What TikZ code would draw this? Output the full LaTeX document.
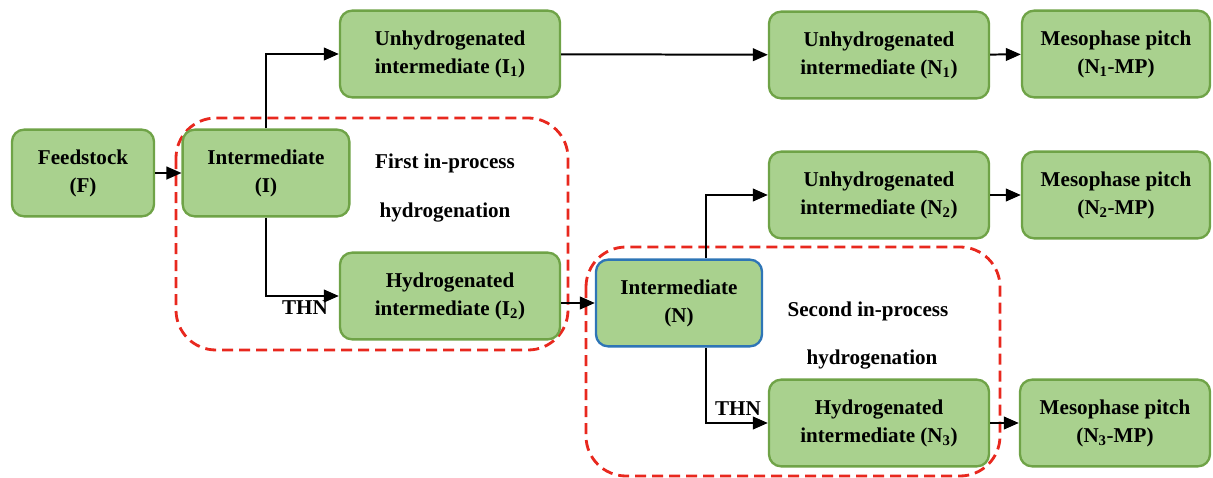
\documentclass[tikz,border=0pt]{standalone}
\usepackage{fontspec}
\setmainfont{Liberation Serif}
\usepackage{xcolor}
\usetikzlibrary{arrows.meta, positioning, calc}

\definecolor{boxgreen}{HTML}{A9D18E}
\definecolor{edgegreen}{HTML}{6FA347}
\definecolor{edgeblue}{HTML}{2E75B6}
\definecolor{dashred}{HTML}{E8281E}

\tikzset{
  stage/.style={draw=edgegreen, fill=boxgreen, line width=2pt, rounded corners=0.36cm,
    minimum width=6.6cm, minimum height=2.6cm, align=center,
    font=\fontsize{18}{24}\selectfont\bfseries},
  flow/.style={-{Triangle[length=0.45cm,width=0.38cm]}, line width=1.7pt},
  zone/.style={draw=dashred, dash pattern=on 0.33cm off 0.18cm, line width=2.4pt, rounded corners=1.2cm},
  note/.style={font=\fontsize{18}{20}\selectfont\bfseries},
}

\begin{document}
\begin{tikzpicture}[x=0.03cm, y=-0.03cm]
  \useasboundingbox (0,0) rectangle (1213,477);

  % dashed zones
  \draw[zone] (176,118) rectangle (568,350);
  \draw[zone] (586,247) rectangle (1000,476);

  % stages
  \node[stage, minimum width=4.26cm] (F) at (83,173) {Feedstock\\(F)};
  \node[stage, minimum width=5cm] (I) at (266,173) {Intermediate\\(I)};
  \node[stage] (I1) at (450,54) {Unhydrogenated\\intermediate (I\textsubscript{1})};
  \node[stage] (I2) at (450,296) {Hydrogenated\\intermediate (I\textsubscript{2})};
  \node[stage, draw=edgeblue, minimum width=4.98cm] (N) at (679,303) {Intermediate\\(N)};
  \node[stage] (N1) at (879,55) {Unhydrogenated\\intermediate (N\textsubscript{1})};
  \node[stage] (N2) at (879,195) {Unhydrogenated\\intermediate (N\textsubscript{2})};
  \node[stage] (N3) at (879,423) {Hydrogenated\\intermediate (N\textsubscript{3})};
  \node[stage, minimum width=5.64cm] (MP1) at (1116,54) {Mesophase pitch\\(N\textsubscript{1}-MP)};
  \node[stage, minimum width=5.64cm] (MP2) at (1116,195) {Mesophase pitch\\(N\textsubscript{2}-MP)};
  \node[stage, minimum width=5.7cm] (MP3) at (1115,423) {Mesophase pitch\\(N\textsubscript{3}-MP)};

  % notes
  \node[note] (t1a) at (445,163) {First in-process};
  \node[note] (t1b) at (445,213) {hydrogenation};
  \node[note] (t2a) at (868,311) {Second in-process};
  \node[note] (t2b) at (872,360) {hydrogenation};
  \node[note] (thn1) at (305,308) {THN};
  \node[note] (thn2) at (738,409) {THN};

  % arrows
  \draw[flow] (F) -- (I);
  \draw[flow] (I.north) |- (I1.west);
  \draw[flow] (I.south) |- (I2.west);
  \draw[flow] (I1) -- (N1);
  \draw[flow] (N1) -- (MP1);
  \draw[flow] (I2.east |- N.west) -- (N.west);
  \draw[flow] (N.north -| 706,0) |- (N2.west);
  \draw[flow] (N.south -| 706,0) |- (N3.west);
  \draw[flow] (N2) -- (MP2);
  \draw[flow] (N3) -- (MP3);
\end{tikzpicture}
\end{document}
